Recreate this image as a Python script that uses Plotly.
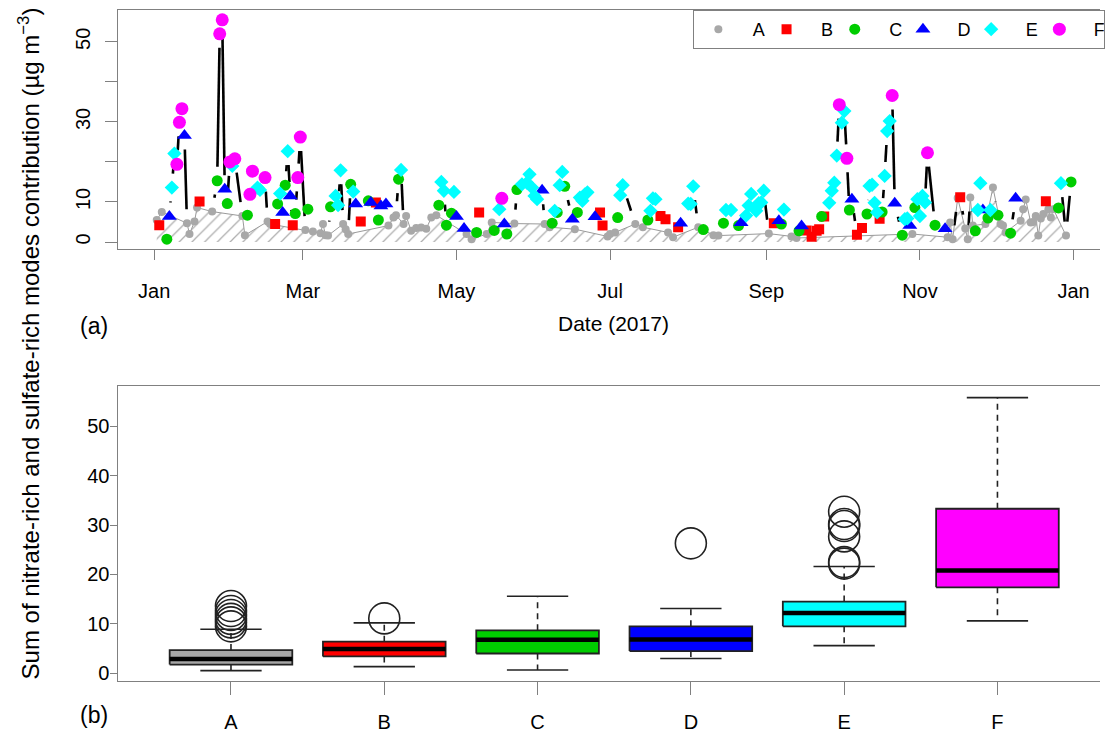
import numpy as np
import pandas as pd
import plotly.graph_objects as go

# ---------------- data (day index: 0 = 1 Jan 2017) ----------------
A_day = [1, 3, 13, 14, 16, 17, 23, 35, 36, 45, 46, 60, 63, 66, 67, 68, 69, 75, 76, 77, 93, 95, 96, 99, 100,
         102, 104, 106, 108, 110, 112, 124, 126, 132, 134, 143, 155, 157, 167, 180, 181, 183, 191, 194, 204,
         206, 216, 222, 224, 244, 253, 255, 301, 315, 316, 317, 319, 322, 323, 324, 325, 330, 333, 336, 337,
         338, 344, 345, 346, 348, 349, 350, 351, 352, 353, 355, 356, 357, 362]
A_val = [5.5, 7.5, 4.7, 2.0, 5.1, 8.6, 7.6, 6.5, 1.7, 5.1, 4.5, 3.0, 2.6, 2.2, 4.5, 1.7, 1.6, 4.5, 3.2, 2.0, 4.1,
         6.1, 6.7, 4.5, 6.5, 2.8, 3.5, 3.6, 3.3, 6.1, 6.7, 2.0, 0.7, 2.0, 4.9, 4.6, 4.5, 3.7, 3.2, 1.4, 2.0, 2.4,
         4.5, 3.7, 2.4, 1.2, 3.7, 1.7, 1.6, 2.1, 1.4, 1.0, 2.0, 1.2, 4.9, 0.7, 11.0, 3.4, 0.7, 11.1, 4.1, 4.5,
         13.6, 4.5, 4.1, 2.4, 5.3, 8.2, 10.6, 4.9, 5.0, 6.5, 1.6, 5.9, 7.0, 8.2, 6.1, 8.2, 1.6]

B_day = [2, 18, 48, 55, 82, 88, 129, 177, 178, 201, 203, 208, 246, 259, 261, 263, 264, 266, 279, 281, 288, 320, 354]
B_val = [4.2, 10.1, 4.5, 4.2, 5.1, 9.9, 7.4, 7.4, 4.1, 6.5, 5.7, 3.7, 4.7, 2.9, 1.3, 2.8, 3.2, 6.4, 1.8, 3.5,
         5.8, 11.2, 10.2]

C_day = [5, 25, 29, 37, 49, 52, 56, 61, 70, 78, 85, 89, 97, 113, 116, 118, 128, 135, 140, 144, 158, 160, 163,
         168, 184, 196, 218, 226, 232, 249, 256, 265, 276, 283, 289, 297, 302, 310, 326, 331, 335, 340, 359, 364]
C_val = [0.7, 15.3, 9.6, 6.7, 9.5, 14.2, 7.1, 8.2, 8.8, 14.4, 10.3, 5.5, 15.7, 9.2, 4.2, 7.2, 2.4, 2.9, 2.0, 13.1,
         4.7, 7.4, 13.9, 7.4, 6.1, 5.5, 3.1, 4.7, 4.1, 4.5, 2.8, 6.4, 8.0, 7.0, 7.5, 1.7, 8.6, 4.2, 2.8, 6.0,
         6.7, 2.2, 8.5, 15.0]

D_day = [6, 12, 28, 51, 54, 80, 86, 90, 92, 120, 123, 139, 154, 166, 175, 209, 233, 248, 257, 277, 294, 300,
         314, 329, 342]
D_val = [6.4, 26.6, 13.2, 7.4, 11.5, 9.5, 9.9, 9.0, 9.5, 6.4, 3.4, 4.5, 12.9, 5.7, 6.3, 4.7, 4.8, 5.3, 4.0,
         10.7, 9.7, 4.1, 3.3, 8.0, 10.9]

E_day = [7, 8, 31, 41, 42, 50, 53, 72, 73, 74, 79, 98, 114, 115, 119, 137, 146, 148, 149, 150, 151, 152, 159,
         161, 162, 169, 170, 171, 172, 185, 186, 197, 198, 199, 212, 213, 214, 227, 229, 235, 236, 237, 239,
         240, 241, 242, 250, 268, 269, 270, 271, 273, 274, 284, 285, 286, 287, 290, 291, 292, 298, 299, 303,
         304, 305, 306, 327, 328, 332, 360]
E_val = [13.6, 22.1, 19.0, 13.6, 13.0, 12.1, 22.7, 11.5, 9.2, 17.9, 12.6, 18.0, 15.0, 12.8, 12.5, 8.2, 14.4,
         14.8, 16.9, 13.6, 11.5, 10.7, 7.8, 14.2, 17.5, 11.1, 10.3, 11.9, 12.4, 11.7, 14.2, 7.8, 10.9, 10.7,
         9.6, 9.5, 13.9, 8.0, 8.0, 6.6, 9.1, 12.0, 7.8, 9.7, 9.9, 12.8, 8.1, 9.8, 12.8, 14.8, 21.6, 29.8, 32.7,
         14.0, 14.3, 9.8, 7.4, 16.5, 27.7, 30.2, 5.7, 5.9, 10.7, 6.5, 11.5, 9.9, 8.0, 14.7, 8.0, 14.7]

F_day = [9, 10, 11, 26, 27, 30, 32, 38, 39, 44, 57, 58, 138, 272, 275, 293, 307]
F_val = [19.4, 29.9, 33.3, 52.0, 55.5, 20.0, 20.8, 11.9, 17.7, 16.1, 16.1, 26.2, 10.9, 34.3, 20.9, 36.6, 22.3]

mode_names = ["A", "B", "C", "D", "E", "F"]
month_ticks = ["2017-01-01", "2017-03-01", "2017-05-01", "2017-07-01", "2017-09-01", "2017-11-01", "2018-01-01"]
month_labels = ["Jan", "Mar", "May", "Jul", "Sep", "Nov", "Jan"]
top_yticks = [0, 10, 30, 50]
top_yminor = [20, 40]
bot_yticks = [0, 10, 20, 30, 40, 50]

# boxplot statistics (panel b)
box_lower = [0.54, 1.35, 0.67, 3.0, 5.6, 10.6]
box_q1 = [1.75, 3.4, 4.0, 4.5, 9.5, 17.4]
box_median = [2.9, 4.9, 6.8, 6.85, 12.2, 20.8]
box_q3 = [4.7, 6.4, 8.7, 9.5, 14.5, 33.3]
box_upper = [8.9, 10.2, 15.6, 13.1, 21.6, 55.8]
out_A = [9.5, 10.3, 11.0, 11.8, 12.6, 13.6]
out_B = [11.1]
out_D = [26.3]
out_E = [22.2, 22.5, 27.7, 29.8, 30.2, 32.7]

# ---------------- styling ----------------
W, H = 1105, 736
FONT = "Liberation Sans"
colors = ["#a8a8a8", "#ff0000", "#00cd00", "#0000ff", "#00ffff", "#ff00ff"]
symbols = ["circle", "square", "circle", "triangle-up", "diamond", "circle"]
sizes = [8, 10, 11, 13, 11, 13]
frame = "#808080"

top_xdom = [119 / W, 1.0]
top_ydom = [(H - 250) / H, (H - 10) / H]
bot_ydom = [(H - 684) / H, (H - 388) / H]
top_xr = [-14.2, 375.5]          # days
top_yr = [-1.74, 57.96]
bot_xr = [0.266, 6.669]
bot_yr = [-1.61, 58.06]

base = pd.Timestamp("2017-01-01")


def to_date(d):
    return (base + pd.to_timedelta(d, unit="D")).strftime("%Y-%m-%d %H:%M:%S")


days_by = [A_day, B_day, C_day, D_day, E_day, F_day]
vals_by = [A_val, B_val, C_val, D_val, E_val, F_val]

fig = go.Figure()

# hatched polygon under mode A values
fig.add_trace(go.Scatter(
    x=[to_date(d) for d in A_day], y=A_val, mode="lines", fill="tozeroy",
    line=dict(color="#9a9a9a", width=1),
    fillcolor="rgba(255,255,255,0)",
    fillpattern=dict(shape="/", size=9, solidity=0.14, fgcolor="#5e5e5e", bgcolor="rgba(255,255,255,0)"),
    showlegend=False, hoverinfo="skip", xaxis="x", yaxis="y"))

# black connecting line (R type="b": gaps around each point)
all_d = np.concatenate([np.array(d, float) for d in days_by])
all_v = np.concatenate([np.array(v, float) for v in vals_by])
order = np.argsort(all_d)
all_d, all_v = all_d[order], all_v[order]
px_day = (top_xdom[1] - top_xdom[0]) * W / (top_xr[1] - top_xr[0])
px_val = (top_ydom[1] - top_ydom[0]) * H / (top_yr[1] - top_yr[0])
gap = 14.0
sx, sy = [], []
for k in range(len(all_d) - 1):
    x1, y1 = all_d[k] * px_day, all_v[k] * px_val
    x2, y2 = all_d[k + 1] * px_day, all_v[k + 1] * px_val
    L = np.hypot(x2 - x1, y2 - y1)
    if L > 2 * gap:
        ux, uy = (x2 - x1) / L, (y2 - y1) / L
        sx += [to_date((x1 + ux * gap) / px_day), to_date((x2 - ux * gap) / px_day), None]
        sy += [(y1 + uy * gap) / px_val, (y2 - uy * gap) / px_val, None]
fig.add_trace(go.Scatter(x=sx, y=sy, mode="lines", line=dict(color="black", width=2.6),
                         showlegend=False, hoverinfo="skip", xaxis="x", yaxis="y"))

for i, name in enumerate(mode_names):
    fig.add_trace(go.Scatter(
        x=[to_date(d) for d in days_by[i]], y=vals_by[i], mode="markers",
        name="\u00a0\u00a0" + name,
        marker=dict(color=colors[i], symbol=symbols[i], size=sizes[i], line=dict(width=0)),
        xaxis="x", yaxis="y"))

# ---------------- panel (b): boxplots ----------------
hw = 0.4
sw = 0.2
med_x, med_y, wh_x, wh_y, st_x, st_y = [], [], [], [], [], []
for i in range(6):
    c = i + 1
    fig.add_trace(go.Scatter(
        x=[c - hw, c + hw, c + hw, c - hw, c - hw],
        y=[box_q1[i], box_q1[i], box_q3[i], box_q3[i], box_q1[i]],
        mode="lines", fill="toself", fillcolor=colors[i] if i else "#a6a6a6",
        line=dict(color="#222", width=1.8), showlegend=False, hoverinfo="skip",
        xaxis="x2", yaxis="y2"))
    med_x += [c - hw, c + hw, None]
    med_y += [box_median[i], box_median[i], None]
    wh_x += [c, c, None, c, c, None]
    wh_y += [box_q3[i], box_upper[i], None, box_q1[i], box_lower[i], None]
    st_x += [c - sw, c + sw, None, c - sw, c + sw, None]
    st_y += [box_upper[i], box_upper[i], None, box_lower[i], box_lower[i], None]

fig.add_trace(go.Scatter(x=wh_x, y=wh_y, mode="lines", line=dict(color="#222", width=1.6, dash="6px,5px"),
                         showlegend=False, hoverinfo="skip", xaxis="x2", yaxis="y2"))
fig.add_trace(go.Scatter(x=st_x, y=st_y, mode="lines", line=dict(color="#222", width=1.6),
                         showlegend=False, hoverinfo="skip", xaxis="x2", yaxis="y2"))
fig.add_trace(go.Scatter(x=med_x, y=med_y, mode="lines", line=dict(color="black", width=4.5),
                         showlegend=False, hoverinfo="skip", xaxis="x2", yaxis="y2"))
ox = [1] * len(out_A) + [2] * len(out_B) + [4] * len(out_D) + [5] * len(out_E)
oy = out_A + out_B + out_D + out_E
fig.add_trace(go.Scatter(x=ox, y=oy, mode="markers",
                         marker=dict(symbol="circle-open", size=31, color="#222", line=dict(width=1.6)),
                         showlegend=False, hoverinfo="skip", xaxis="x2", yaxis="y2"))

tickfont = dict(family=FONT, size=20, color="black")
fig.update_layout(
    width=W, height=H, margin=dict(l=0, r=0, t=0, b=0),
    paper_bgcolor="white", plot_bgcolor="white",
    font=dict(family=FONT, size=20, color="black"),
    xaxis=dict(domain=top_xdom, anchor="y", type="date",
               range=[to_date(top_xr[0]), to_date(top_xr[1])],
               tickvals=month_ticks, ticktext=month_labels, ticks="outside", ticklen=10,
               tickcolor=frame, tickwidth=1, showline=True, linecolor=frame, linewidth=1, mirror=True,
               showgrid=False, zeroline=False, tickfont=tickfont, ticklabelstandoff=14),
    yaxis=dict(domain=top_ydom, anchor="x", range=top_yr,
               tickvals=top_yticks, ticktext=[str(v) for v in top_yticks],
               ticks="outside", ticklen=12, tickcolor=frame, tickangle=-90,
               minor=dict(tickvals=top_yminor, ticks="outside", ticklen=12, tickcolor=frame, showgrid=False),
               showline=True, linecolor=frame, linewidth=1, mirror=False,
               showgrid=False, zeroline=False, tickfont=tickfont, ticklabelstandoff=7),
    xaxis2=dict(domain=top_xdom, anchor="y2", range=bot_xr,
                tickvals=[1, 2, 3, 4, 5, 6], ticktext=mode_names, ticks="outside", ticklen=13,
                tickcolor=frame, showline=True, linecolor=frame, linewidth=1, mirror=True,
                showgrid=False, zeroline=False, tickfont=tickfont, ticklabelstandoff=10),
    yaxis2=dict(domain=bot_ydom, anchor="x2", range=bot_yr,
                tickvals=bot_yticks, ticks="outside", ticklen=7, tickcolor=frame,
                showline=True, linecolor=frame, linewidth=1, mirror=False,
                showgrid=False, zeroline=False, tickfont=tickfont, ticklabelstandoff=-3),
    legend=dict(orientation="h", x=696 / W, xanchor="left", y=(H - 10) / H, yanchor="top",
                bgcolor="white", bordercolor=frame, borderwidth=1,
                font=dict(family=FONT, size=18, color="black"),
                itemwidth=39, entrywidth=14.2, entrywidthmode="pixels"),
    showlegend=True,
)

ann = [
    dict(text="(a)", x=94 / W, y=(H - 327) / H, font=dict(size=23)),
    dict(text="Date (2017)", x=616 / W, y=(H - 325) / H, font=dict(size=21)),
    dict(text="(b)", x=94 / W, y=(H - 718) / H, font=dict(size=23)),
    dict(text="Sum of nitrate-rich and sulfate-rich modes contribution (\u00b5g m<sup>\u22123</sup>)",
         x=29 / W, y=(H - 345) / H, textangle=-90, font=dict(size=24)),
]
for a in ann:
    fig.add_annotation(xref="paper", yref="paper", showarrow=False, xanchor="center", yanchor="middle", **a)

fig.write_html("out.html")
